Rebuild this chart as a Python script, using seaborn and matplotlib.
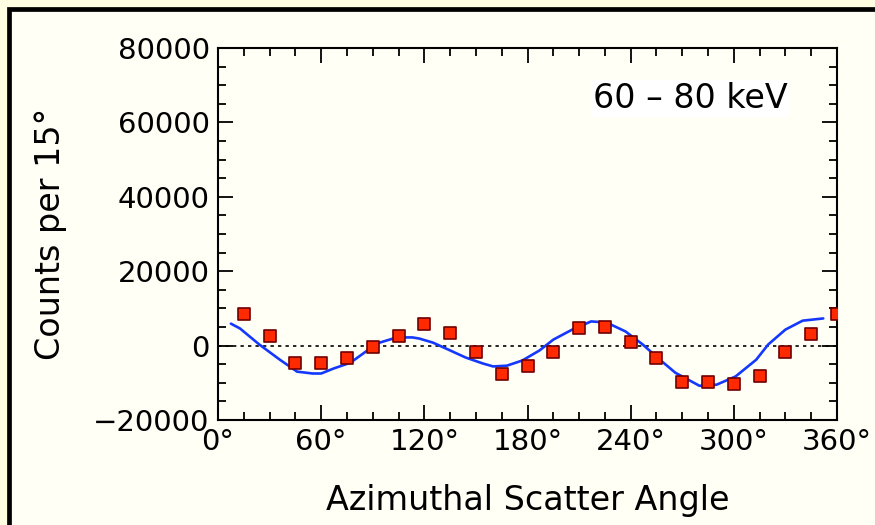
import matplotlib
matplotlib.use("Agg")
import matplotlib.pyplot as plt
from matplotlib.patches import Rectangle
from matplotlib.ticker import MultipleLocator, FuncFormatter
import seaborn as sns
import pandas as pd

# ---- data ----
angles = [15, 30, 45, 60, 75, 90, 105, 120, 135, 150, 165, 180,
          195, 210, 225, 240, 255, 270, 285, 300, 315, 330, 345, 360]
counts = [8600, 2700, -4800, -4800, -3200, -500, 2700, 5900, 3500, -1600, -7500, -5600,
          -1600, 4600, 4900, 1100, -3200, -9900, -9700, -10200, -8100, -1600, 3200, 8600]

fit_angles = [7.5, 12.8, 24, 36, 46, 55, 60, 67, 77, 86, 94, 104, 113, 117, 125, 135,
              144, 154, 160, 168, 177, 187, 195, 206, 217, 226, 237, 247, 257, 266,
              280, 290, 301, 313, 320, 330, 340, 352]
fit_counts = [5900, 4600, 300, -3800, -7000, -7500, -7500, -6200, -4600, -1600, 800, 2200,
              2200, 1900, 800, -1300, -3200, -4800, -5600, -5400, -4000, -1300, 1600, 4300,
              6500, 6200, 3800, 300, -3800, -7300, -10800, -10500, -8300, -3800, 300, 4300,
              6700, 7300]

x_ticks = [0, 60, 120, 180, 240, 300, 360]
y_ticks = [-20000, 0, 20000, 40000, 60000, 80000]
band_label = "60 – 80 keV"

pts = pd.DataFrame({"angle": angles, "counts": counts})
fit = pd.DataFrame({"angle": fit_angles, "counts": fit_counts})

W, H = 875, 525
outer_bg = "#FFFEE2"
inner_bg = "#FFFFF6"
fs = 21
fs_lab = 24

sns.set_theme(style="ticks")
plt.rcParams["font.family"] = ["DejaVu Sans"]

fig = plt.figure(figsize=(W / 100, H / 100), dpi=100, facecolor=outer_bg)
# inner panel with thick black frame (extends past right/bottom edges)
frame = Rectangle((9 / W, -0.5), 2.0, 1.5 - 9 / H, transform=fig.transFigure,
                  facecolor=inner_bg, edgecolor="black", linewidth=3.4, zorder=-5)
fig.patches.append(frame)

ax = fig.add_axes([218 / W, (H - 420) / H, (837 - 218) / W, (420 - 48) / H])
ax.set_zorder(1)
ax.set_facecolor(inner_bg)

ax.axhline(0, color="black", linestyle=(0, (2, 2.5)), linewidth=1.2, zorder=1)
sns.lineplot(data=fit, x="angle", y="counts", ax=ax, color="#1538FF",
             linewidth=1.9, sort=False, zorder=2)
sns.scatterplot(data=pts, x="angle", y="counts", ax=ax, marker="s", s=85,
                color="#FF2A00", edgecolor="#700000", linewidth=1.2, zorder=3)

ax.set_xlim(0, 360)
ax.set_ylim(-20000, 80000)
ax.set_xticks(x_ticks)
ax.set_yticks(y_ticks)
ax.xaxis.set_minor_locator(MultipleLocator(15))
ax.yaxis.set_minor_locator(MultipleLocator(5000))
ax.xaxis.set_major_formatter(FuncFormatter(lambda v, p: f"{int(v)}°"))
ax.yaxis.set_major_formatter(FuncFormatter(lambda v, p: f"{int(v)}".replace("-", "\u2212")))

ax.tick_params(which="both", direction="in", top=True, right=True, colors="black",
               labelsize=fs, width=1.3)
ax.tick_params(which="major", length=11, pad=6)
ax.tick_params(which="minor", length=6)
for s in ax.spines.values():
    s.set_color("black")
    s.set_linewidth(1.5)

ax.set_xlabel("Azimuthal Scatter Angle", fontsize=fs_lab, color="black", labelpad=20)
ax.set_ylabel("Counts per 15°", fontsize=fs_lab, color="black", labelpad=19)

ax.text(0.921, 0.864, band_label, transform=ax.transAxes, ha="right", va="center",
        fontsize=fs_lab, color="black",
        bbox=dict(facecolor="white", edgecolor="none", pad=1.5))

fig.savefig("out.png", dpi=100, facecolor=outer_bg)
